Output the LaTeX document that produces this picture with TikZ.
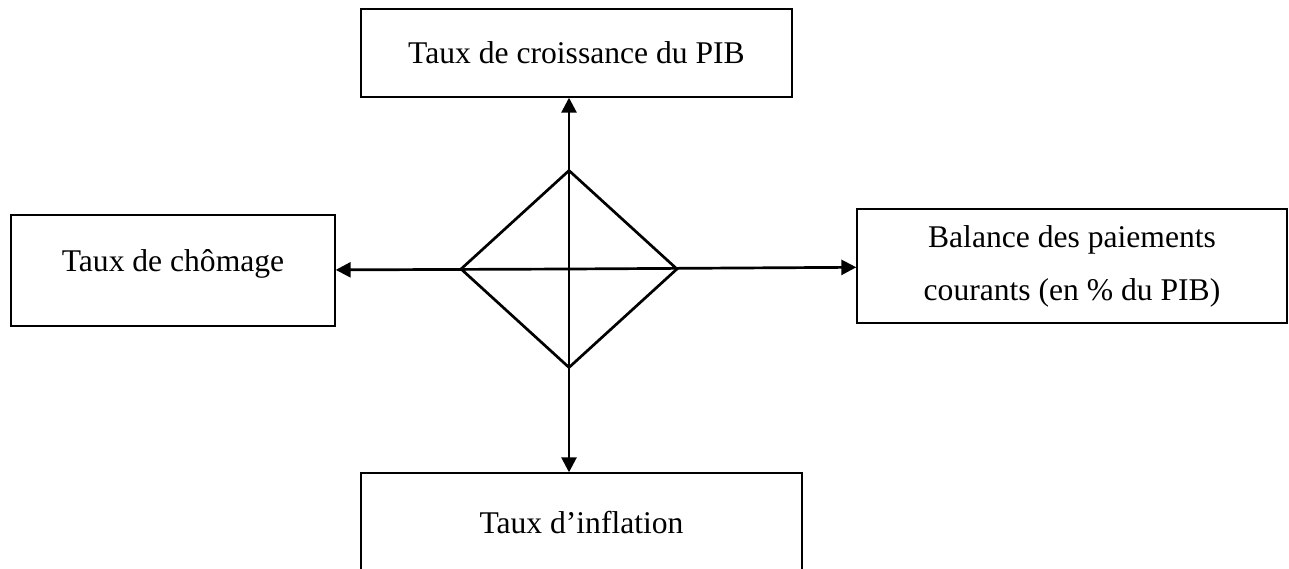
\documentclass[tikz,border=0pt]{standalone}
\usepackage{fontspec}
\setmainfont{Liberation Serif}
\usetikzlibrary{shapes.geometric,arrows.meta}

\begin{document}
\begin{tikzpicture}[x=0.5pt,y=-0.5pt,->,>={Triangle[length=7.5pt,width=7.5pt]},
  line width=1.35pt,
  box/.style={draw,line width=0.7pt,align=center,inner sep=0pt,font=\fontsize{15.8}{26.5}\selectfont}]

  \clip (0,0) rectangle (1289,568);

  \node[box,minimum width=215.5pt,minimum height=44pt] (croissance) at (576.5,53) {Taux de croissance du PIB};
  \node[box,minimum width=162pt,minimum height=55.5pt,text depth=10pt] (chomage) at (173,270.5) {Taux de chômage};
  \node[box,minimum width=215pt,minimum height=57pt] (balance) at (1072,266) {Balance des paiements\\courants (en \% du PIB)};
  \node[box,minimum width=220.5pt,minimum height=49.5pt] (inflation) at (581.5,522.5) {Taux d’inflation};

  \node[draw,diamond,line width=1.35pt,minimum width=108.5pt,minimum height=99pt,inner sep=0pt] (carre) at (569,269) {};

  \draw (carre.center) -- (carre.center |- croissance.south);
  \draw (carre.center) -- (carre.center |- inflation.north);
  \draw (carre.center) -- (chomage);
  \draw (carre.center) -- (balance);
\end{tikzpicture}
\end{document}
